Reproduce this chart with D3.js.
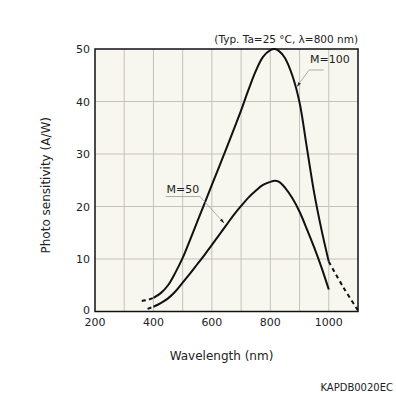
<!DOCTYPE html>
<html>
<head>
<meta charset="utf-8">
<script src="https://cdn.jsdelivr.net/npm/d3@7"></script>
<style>
  body { margin: 0; background: #fff; }
  svg text { font-family: "DejaVu Sans", sans-serif; fill: #222; }
</style>
</head>
<body>
<div id="chart"></div>
<script>
// M=100 curve (solid part, nm / A/W)
var m100Wave = [400, 425, 450, 475, 500, 525, 550, 575, 600, 625, 650, 675, 700, 725, 750, 775, 800, 815, 830, 850, 875, 900, 925, 950, 975, 1000];
var m100Sens = [2.6, 3.5, 5.0, 7.4, 10.2, 13.6, 17.1, 20.6, 24.1, 27.6, 31.1, 34.7, 38.3, 42.2, 45.8, 48.5, 49.8, 50.0, 49.6, 48.3, 45.0, 39.8, 31.2, 22.6, 15.6, 9.5];
var m100DashLeftWave = [360, 380, 400];
var m100DashLeftSens = [2.0, 2.2, 2.6];
var m100DashRightWave = [1000, 1050, 1100];
var m100DashRightSens = [9.5, 4.6, 0.2];

// M=50 curve
var m50Wave = [400, 425, 450, 475, 500, 525, 550, 575, 600, 625, 650, 675, 700, 725, 750, 775, 800, 815, 830, 850, 875, 900, 925, 950, 975, 1000];
var m50Sens = [0.9, 1.6, 2.5, 3.8, 5.5, 7.2, 9.0, 10.8, 12.7, 14.6, 16.5, 18.4, 20.1, 21.7, 23.0, 24.1, 24.7, 24.9, 24.7, 23.6, 21.6, 19.0, 15.7, 12.2, 8.4, 4.2];
var m50DashWave = [380, 400];
var m50DashSens = [0.5, 0.9];

var xTicks = [200, 400, 600, 800, 1000];
var yTicks = [0, 10, 20, 30, 40, 50];
var xGrid = [300, 400, 500, 600, 700, 800, 900, 1000];
var yGrid = [10, 20, 30, 40];

// curve labels, positions in data units
var labelText = ["M=100", "M=50"];
var labelWave = [936, 445];
var labelSens = [47.3, 22.5];
var underEndWave = [983, 559];
var underSens = [46.0, 21.9];
var arrowWave = [892, 641];
var arrowSens = [42.9, 16.9];

var width = 396, height = 396;
var margin = {top: 49, right: 38, bottom: 84.5, left: 95};

var svg = d3.select("#chart").append("svg")
	.attr("width", width)
	.attr("height", height);

var x = d3.scaleLinear().domain([200, 1100]).range([margin.left, width - margin.right]);
var y = d3.scaleLinear().domain([0, 50]).range([height - margin.bottom, margin.top]);

svg.append("defs").append("marker")
	.attr("id", "arr")
	.attr("viewBox", "0 0 10 10")
	.attr("refX", 9).attr("refY", 5)
	.attr("markerWidth", 6).attr("markerHeight", 6)
	.attr("orient", "auto")
	.append("path")
	.attr("d", "M0,2L10,5L0,8Z")
	.attr("fill", "#222");

// plot background
svg.append("rect")
	.attr("x", x(200)).attr("y", y(50))
	.attr("width", x(1100) - x(200))
	.attr("height", y(0) - y(50))
	.attr("fill", "#f7f6ef");

// Grids //
svg.selectAll("line.vg").data(xGrid).enter().append("line")
	.attr("class", "vg")
	.attr("x1", function(d) { return x(d); }).attr("x2", function(d) { return x(d); })
	.attr("y1", y(0)).attr("y2", y(50))
	.attr("stroke", "#c4c3bb").attr("stroke-width", 1);

svg.selectAll("line.hg").data(yGrid).enter().append("line")
	.attr("class", "hg")
	.attr("x1", x(200)).attr("x2", x(1100))
	.attr("y1", function(d) { return y(d); }).attr("y2", function(d) { return y(d); })
	.attr("stroke", "#c4c3bb").attr("stroke-width", 1);
// End Grids //

var line = d3.line()
	.x(function(d) { return x(d[0]); })
	.y(function(d) { return y(d[1]); })
	.curve(d3.curveCatmullRom.alpha(0.5));

function pts(w, s) { return w.map(function(d, i) { return [d, s[i]]; }); }

function drawCurve(data, dashed) {
	svg.append("path")
		.datum(data)
		.attr("d", line)
		.attr("fill", "none")
		.attr("stroke", "#111")
		.attr("stroke-width", 2)
		.attr("stroke-dasharray", dashed ? "4,3.5" : null);
}

drawCurve(pts(m100Wave, m100Sens), false);
drawCurve(pts(m100DashLeftWave, m100DashLeftSens), true);
drawCurve(pts(m100DashRightWave, m100DashRightSens), true);
drawCurve(pts(m50Wave, m50Sens), false);
drawCurve(pts(m50DashWave, m50DashSens), true);

// frame
svg.append("rect")
	.attr("x", x(200)).attr("y", y(50))
	.attr("width", x(1100) - x(200))
	.attr("height", y(0) - y(50))
	.attr("fill", "none")
	.attr("stroke", "#111")
	.attr("stroke-width", 1.5);

// tick labels
svg.selectAll("text.xt").data(xTicks).enter().append("text")
	.attr("class", "xt")
	.attr("x", function(d) { return x(d); })
	.attr("y", y(0) + 14)
	.attr("text-anchor", "middle")
	.style("font-size", "11px")
	.text(function(d) { return d; });

svg.selectAll("text.yt").data(yTicks).enter().append("text")
	.attr("class", "yt")
	.attr("x", x(200) - 5)
	.attr("y", function(d) { return y(d) + (d == 0 ? 2 : 4); })
	.attr("text-anchor", "end")
	.style("font-size", "11px")
	.text(function(d) { return d; });

// annotations
labelText.forEach(function(t, i) {
	svg.append("line")
		.attr("x1", x(labelWave[i]) - 1).attr("x2", x(underEndWave[i]))
		.attr("y1", y(underSens[i])).attr("y2", y(underSens[i]))
		.attr("stroke", "#999").attr("stroke-width", 0.8);
	svg.append("line")
		.attr("x1", i == 0 ? x(labelWave[i]) - 1 : x(underEndWave[i]))
		.attr("y1", y(underSens[i]))
		.attr("x2", x(arrowWave[i])).attr("y2", y(arrowSens[i]))
		.attr("stroke", "#999").attr("stroke-width", 0.8)
		.attr("marker-end", "url(#arr)");
	svg.append("text")
		.attr("x", x(labelWave[i])).attr("y", y(labelSens[i]))
		.style("font-size", "11px")
		.text(t);
});

svg.append("text")
	.attr("x", x(1100)).attr("y", 43)
	.attr("text-anchor", "end")
	.style("font-size", "10.5px")
	.text("(Typ. Ta=25 \u00B0C, \u03BB=800 nm)");

svg.append("text")
	.attr("x", (x(200) + x(1100)) / 2 - 5).attr("y", 360)
	.attr("text-anchor", "middle")
	.style("font-size", "12px")
	.text("Wavelength (nm)");

svg.append("text")
	.attr("transform", "translate(50," + ((y(0) + y(50)) / 2 + 5) + ") rotate(-90)")
	.attr("text-anchor", "middle")
	.style("font-size", "12px")
	.text("Photo sensitivity (A/W)");

svg.append("text")
	.attr("x", 393).attr("y", 391)
	.attr("text-anchor", "end")
	.style("font-size", "10px")
	.text("KAPDB0020EC");
</script>
</body>
</html>
